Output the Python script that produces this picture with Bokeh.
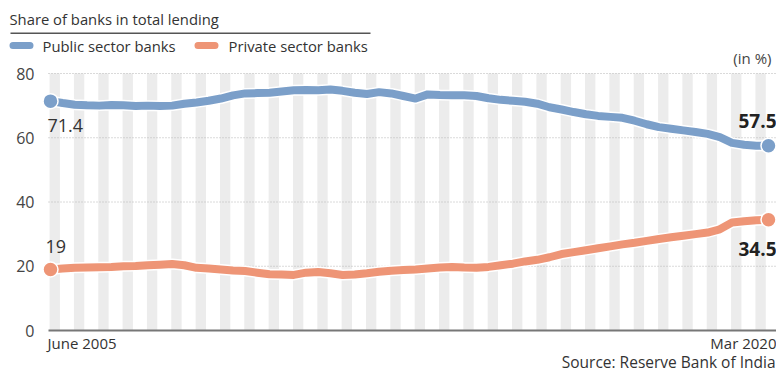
from bokeh.plotting import figure
from bokeh.models import Range1d, Label, ColumnDataSource, BoxAnnotation
from bokeh.core.properties import value
from bokeh.embed import file_html
from bokeh.resources import INLINE

# ---- data (quarterly, June 2005 .. Mar 2020) ----
quarter_index = list(range(60))
public_sector = [71.4, 70.8, 70.3, 70.1, 70.0, 70.2, 70.1, 69.9, 70.0, 69.9,
                 70.0, 70.6, 71.0, 71.5, 72.2, 73.2, 73.8, 73.9, 74.0, 74.4,
                 74.8, 74.9, 74.8, 75.0, 74.6, 74.0, 73.6, 74.2, 73.8, 73.0,
                 72.2, 73.5, 73.3, 73.2, 73.2, 73.0, 72.3, 71.8, 71.5, 71.2,
                 70.6, 69.5, 68.8, 68.0, 67.3, 66.8, 66.5, 66.2, 65.3, 64.2,
                 63.3, 62.8, 62.3, 61.8, 61.2, 60.2, 58.4, 57.8, 57.5, 57.5]
private_sector = [19.0, 19.3, 19.5, 19.6, 19.7, 19.8, 20.0, 20.1, 20.3, 20.5,
                  20.7, 20.3, 19.5, 19.3, 19.0, 18.7, 18.5, 18.0, 17.5, 17.4,
                  17.3, 18.0, 18.2, 17.8, 17.3, 17.4, 17.8, 18.3, 18.6, 18.8,
                  19.0, 19.3, 19.6, 19.8, 19.6, 19.5, 19.8, 20.3, 20.8, 21.5,
                  22.0, 22.8, 23.8, 24.4, 25.0, 25.6, 26.2, 26.8, 27.3, 27.9,
                  28.5, 29.0, 29.5, 30.0, 30.5, 31.5, 33.6, 34.0, 34.3, 34.5]
band_positions = [2 * k + 0.35 for k in range(30)]
y_ticks = [0, 20, 40, 60, 80]
y_tick_labels = ["0", "20", "40", "60", "80"]
x_labels = ["June 2005", "Mar 2020"]
public_label_first, public_label_last = "71.4", "57.5"
private_label_first, private_label_last = "19", "34.5"

BLUE = "#7b9fc9"
ORANGE = "#ee9576"
FONT = "Open Sans"

W, H = 776, 371
PXQ = 718 / 59.0      # pixels per quarter
PXV = 257 / 80.0      # pixels per percentage point
X0, Y0 = 50, 330      # canvas position of first quarter / zero line


def dx(px):  # canvas x pixel -> data x
    return (px - X0) / PXQ


p = figure(width=W, height=H, output_backend="svg", toolbar_location=None,
           x_range=Range1d(dx(0), dx(W)),
           y_range=Range1d(-(H - Y0) / PXV, Y0 / PXV),
           min_border=0, min_border_left=0, min_border_right=0,
           min_border_top=0, min_border_bottom=0, outline_line_color=None,
           background_fill_color="white", border_fill_color="white")
p.xaxis.visible = False
p.yaxis.visible = False
p.xgrid.visible = False
p.ygrid.visible = False

# vertical light bands
p.vbar(x=band_positions, top=y_ticks[-1], bottom=0, width=0.85,
       fill_color="#ececec", line_color=None)

# dotted gridlines
n = len(y_ticks) - 1
grid_src = ColumnDataSource(dict(x0=[dx(48)] * n, x1=[dx(W)] * n, y=y_ticks[1:]))
p.segment(x0="x0", x1="x1", y0="y", y1="y", source=grid_src,
          line_color="#b5b5b5", line_width=1, line_dash="1 2")
# baseline axis
p.segment(x0=[dx(48)], x1=[dx(W)], y0=[y_ticks[0]], y1=[y_ticks[0]],
          line_color="#777777", line_width=2)

# y tick labels
p.text(x=[dx(34)] * len(y_ticks), y=y_ticks, text=y_tick_labels,
       text_font=value(FONT), text_font_size="16px", text_color="#444444",
       text_align="right", text_baseline="middle")

# lines
for vals, col in ((public_sector, BLUE), (private_sector, ORANGE)):
    p.line(quarter_index, vals, line_color="white", line_width=11, line_join="round",
           line_cap="round")
    p.line(quarter_index, vals, line_color=col, line_width=8, line_join="round",
           line_cap="round")
    p.scatter([quarter_index[0], quarter_index[-1]], [vals[0], vals[-1]], size=15,
              fill_color=col, line_color="white", line_width=1.5)


def lab(xc, yc, text, size="14px", align="left", color="#333333", style="normal"):
    # xc, yc: canvas pixel position from top-left
    p.add_layout(Label(x=xc, y=H - yc, x_units="screen", y_units="screen",
                       text=text, text_font=FONT, text_font_size=size,
                       text_align=align, text_baseline="middle", text_color=color,
                       text_font_style=style))


def box(l, r, t, b, col, radius=0):
    p.add_layout(BoxAnnotation(left=l, right=r, top=H - t, bottom=H - b,
                               left_units="screen", right_units="screen",
                               top_units="screen", bottom_units="screen",
                               fill_color=col, fill_alpha=1, line_color=None,
                               border_radius=radius, level="overlay"))


# subtitle and legend
lab(9, 18, "Share of banks in total lending", size="14.8px")
box(10, 370, 32, 33.5, "#555555")
box(9, 33, 41.5, 48.5, BLUE, 4)
box(194, 218, 41.5, 48.5, ORANGE, 4)
lab(42, 45, "Public sector banks", size="14.8px")
lab(228, 45, "Private sector banks", size="14.8px")
lab(771, 57, "(in %)", size="15px", align="right", color="#444444")

# value labels
lab(47, 125, public_label_first, size="18px")
lab(45, 246, private_label_first, size="18px")
lab(776, 120, public_label_last, size="19px", align="right", color="#222222",
    style="bold")
lab(776, 248, private_label_last, size="19px", align="right", color="#222222",
    style="bold")

# x labels and source
lab(47, 342, x_labels[0], size="15px")
lab(776, 342, x_labels[1], size="15px", align="right")
lab(775, 361, "Source: Reserve Bank of India", size="15.5px", align="right")

open("out.html", "w").write(file_html(p, INLINE))
